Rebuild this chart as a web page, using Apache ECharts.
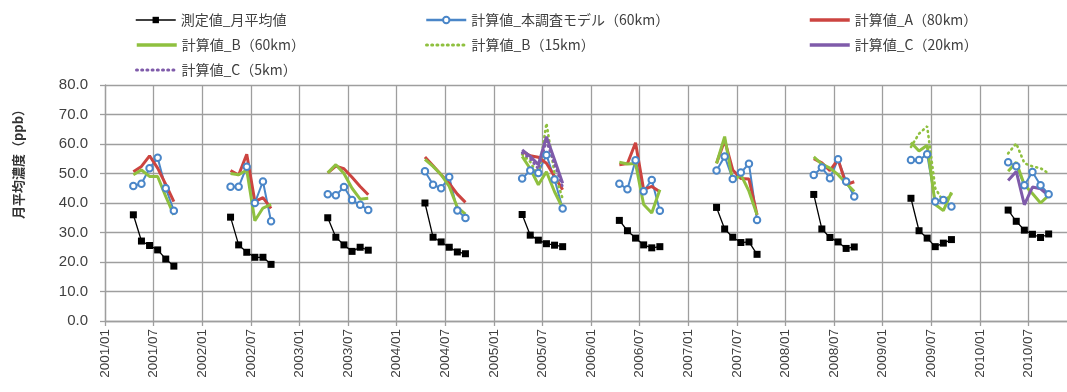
<!DOCTYPE html>
<html>
<head>
<meta charset="utf-8">
<script src="https://cdn.jsdelivr.net/npm/echarts@6/dist/echarts.min.js"></script>
<style>
  html, body { margin: 0; padding: 0; background: #fff; }
  #chart { width: 1067px; height: 392px; }
</style>
</head>
<body>
<div id="chart"></div>
<script>
// Monthly mean concentrations (ppb), April–September of each year.
const years = [2001, 2002, 2003, 2004, 2005, 2006, 2007, 2008, 2009, 2010];
const seasonMonths = [4, 5, 6, 7, 8, 9];

const seriesNames = [
  '測定値_月平均値',
  '計算値_本調査モデル（60km）',
  '計算値_A（80km）',
  '計算値_B（60km）',
  '計算値_B（15km）',
  '計算値_C（20km）',
  '計算値_C（5km）'
];

// one row per year (null = no data for that year)
const measured = [
  [36.0, 27.1, 25.6, 24.1, 21.0, 18.6],
  [35.2, 25.8, 23.3, 21.6, 21.6, 19.2],
  [35.0, 28.4, 25.8, 23.6, 25.0, 24.0],
  [40.0, 28.4, 26.8, 25.0, 23.4, 22.8],
  [36.1, 29.1, 27.4, 26.2, 25.7, 25.2],
  [34.1, 30.6, 28.1, 25.8, 24.8, 25.2],
  [38.5, 31.2, 28.4, 26.6, 26.8, 22.6],
  [42.9, 31.2, 28.3, 26.8, 24.6, 25.1],
  [41.6, 30.6, 28.1, 25.2, 26.4, 27.6],
  [37.6, 33.8, 30.8, 29.4, 28.3, 29.5]
];
const modelMain60 = [
  [45.8, 46.5, 51.8, 55.3, 45.0, 37.4],
  [45.5, 45.5, 52.3, 40.0, 47.3, 33.8],
  [43.0, 42.6, 45.4, 41.0, 39.4, 37.6],
  [50.8, 46.2, 45.0, 48.8, 37.5, 34.9],
  [48.3, 51.0, 50.2, 56.3, 48.0, 38.1],
  [46.5, 44.7, 54.5, 44.0, 47.8, 37.4],
  [51.0, 55.8, 48.1, 50.3, 53.3, 34.2],
  [49.5, 52.0, 48.4, 54.8, 47.3, 42.2],
  [54.6, 54.6, 56.5, 40.5, 41.0, 38.8],
  [53.8, 52.5, 46.0, 50.5, 46.0, 43.0]
];
const calcA80 = [
  [50.6, 52.4, 56.0, 51.8, 46.3, 40.5],
  [51.0, 49.5, 56.5, 40.5, 41.8, 38.2],
  [50.2, 52.5, 51.6, 48.7, 45.6, 42.8],
  [55.6, 52.6, 49.6, 46.6, 43.0, 40.2],
  [57.5, 56.0, 55.5, 53.5, 49.0, 44.5],
  [53.0, 53.4, 60.4, 44.5, 45.6, 43.8],
  [53.5, 61.2, 51.2, 48.3, 48.1, 36.0],
  [55.0, 53.6, 51.0, 54.8, 46.2, 47.2],
  null,
  null
];
const calcB60 = [
  [49.6, 51.2, 49.0, 49.0, 42.2, 36.0],
  [50.0, 49.6, 51.2, 34.0, 38.3, 39.5],
  [50.2, 53.0, 50.0, 45.0, 41.3, 41.6],
  [54.8, 52.4, 49.6, 45.6, 38.5, 36.2],
  [55.8, 51.6, 46.2, 50.6, 43.8, 38.3],
  [53.8, 53.2, 53.4, 39.5, 36.6, 44.5],
  [53.4, 62.5, 47.3, 49.6, 44.0, 36.0],
  [55.6, 53.2, 51.8, 49.6, 46.7, 43.9],
  [60.5, 57.6, 59.6, 39.5, 37.4, 43.6],
  [50.8, 53.8, 46.2, 43.2, 40.0, 42.6]
];
const calcB15 = [
  null, null, null, null,
  [56.5, 54.0, 49.0, 67.0, 50.0, 41.5],
  null, null, null,
  [59.0, 63.5, 66.0, 45.0, 40.5, 43.0],
  [56.8, 60.2, 53.5, 52.4, 51.8, 50.0]
];
const calcC20 = [
  null, null, null, null,
  [58.0, 55.8, 53.0, 62.5, 54.7, 46.7],
  null, null, null, null,
  [47.6, 50.7, 39.4, 45.4, 44.8, 42.5]
];
const calcC5 = [
  null, null, null, null,
  [57.0, 55.0, 51.5, 61.0, 53.0, 45.5],
  null, null, null, null, null
];

const yTicks = { min: 0, max: 80, step: 10 };

// months counted from 2001/01; each value sits in the middle of its month
function monthPos(year, month) {
  return (year - years[0]) * 12 + (month - 1) + 0.5;
}
function buildData(rows) {
  const out = [];
  rows.forEach((row, i) => {
    if (!row) return;
    row.forEach((v, j) => out.push([monthPos(years[i], seasonMonths[j]), v]));
    out.push([monthPos(years[i], 12), '-']); // break the line between seasons
  });
  return out;
}

const BLACK = '#000000', BLUE = '#4A86C8', RED = '#CC4440', GREEN = '#8FC03F', PURPLE = '#7F5BAA';
const dotted = [1, 4.2];

function lineSeries(name, rows, opts) {
  return Object.assign({
    name: name,
    type: 'line',
    data: buildData(rows),
    connectNulls: false,
    animation: false,
    symbol: 'none',
    emphasis: { disabled: true }
  }, opts);
}

const series = [
  lineSeries(seriesNames[0], measured, {
    symbol: 'rect', symbolSize: 7,
    itemStyle: { color: BLACK },
    lineStyle: { color: BLACK, width: 1.3 }
  }),
  lineSeries(seriesNames[1], modelMain60, {
    symbol: 'emptyCircle', symbolSize: 6.5, showSymbol: true,
    itemStyle: { color: BLUE, borderWidth: 1.5 },
    lineStyle: { color: BLUE, width: 2 }
  }),
  lineSeries(seriesNames[2], calcA80, {
    itemStyle: { color: RED },
    lineStyle: { color: RED, width: 3 }
  }),
  lineSeries(seriesNames[3], calcB60, {
    itemStyle: { color: GREEN },
    lineStyle: { color: GREEN, width: 3 }
  }),
  lineSeries(seriesNames[4], calcB15, {
    itemStyle: { color: GREEN },
    lineStyle: { color: GREEN, width: 2.6, type: dotted, cap: 'round' }
  }),
  lineSeries(seriesNames[5], calcC20, {
    itemStyle: { color: PURPLE },
    lineStyle: { color: PURPLE, width: 3 }
  }),
  lineSeries(seriesNames[6], calcC5, {
    itemStyle: { color: PURPLE },
    lineStyle: { color: PURPLE, width: 2.6, type: dotted, cap: 'round' }
  })
];

// legend slots: [series index, left, row centre, has marker, line width]
const legendFont = { fontFamily: 'Noto Sans CJK JP', fontSize: 14, color: '#404040' };
const legendSlots = [
  [0, 135, 20, true, 1.5], [1, 425, 20, true, 2.5], [2, 808, 20, false, 3.5],
  [3, 135, 45, false, 3.5], [4, 425, 45, false, 3], [5, 808, 45, false, 3.5],
  [6, 135, 70, false, 3]
];
const legends = legendSlots.map(([idx, left, cy, marker, lw]) => ({
  data: [seriesNames[idx]],
  left: left, top: cy - 7,
  padding: 0,
  itemWidth: 40, itemHeight: marker ? 8 : 14,
  selectedMode: false,
  itemStyle: marker ? {} : { opacity: 0 },
  lineStyle: { width: lw },
  textStyle: Object.assign({ lineHeight: 14, height: 14 }, legendFont)
}));

const chart = echarts.init(document.getElementById('chart'), null, { renderer: 'canvas' });
chart.setOption({
  backgroundColor: '#ffffff',
  animation: false,
  legend: legends,
  grid: { left: 105, right: -10, top: 85, bottom: 71, containLabel: false, outerBoundsMode: 'none' },
  xAxis: {
    type: 'value',
    min: 0, max: 120, interval: 6,
    axisLine: { show: true, lineStyle: { color: '#9e9e9e', width: 1.3 } },
    axisTick: { show: true, length: 5, lineStyle: { color: '#9e9e9e', width: 1.3 } },
    splitLine: { show: true, lineStyle: { color: '#9e9e9e', width: 1.3 } },
    axisLabel: {
      rotate: 90, margin: 8,
      fontFamily: 'Liberation Sans', fontSize: 13.5, color: '#404040',
      formatter: v => {
        const y = years[0] + Math.floor(v / 12);
        const m = (v % 12) + 1;
        return y + '/' + String(m).padStart(2, '0');
      }
    }
  },
  yAxis: {
    type: 'value',
    min: yTicks.min, max: yTicks.max, interval: yTicks.step,
    axisLine: { show: true, lineStyle: { color: '#9e9e9e', width: 1.3 } },
    axisTick: { show: true, length: 5, lineStyle: { color: '#9e9e9e', width: 1.3 } },
    splitLine: { show: true, lineStyle: { color: '#9e9e9e', width: 1.3 } },
    axisLabel: {
      margin: 17,
      fontFamily: 'Liberation Sans', fontSize: 15, color: '#404040',
      formatter: v => v.toFixed(1)
    }
  },
  graphic: [{
    type: 'text',
    x: 18, y: 161,
    rotation: Math.PI / 2,
    style: {
      text: '月平均濃度（ppb）',
      font: '600 13px "Noto Sans CJK JP"',
      fill: '#333333',
      textAlign: 'center',
      textVerticalAlign: 'middle'
    }
  }],
  series: series
});
</script>
</body>
</html>
